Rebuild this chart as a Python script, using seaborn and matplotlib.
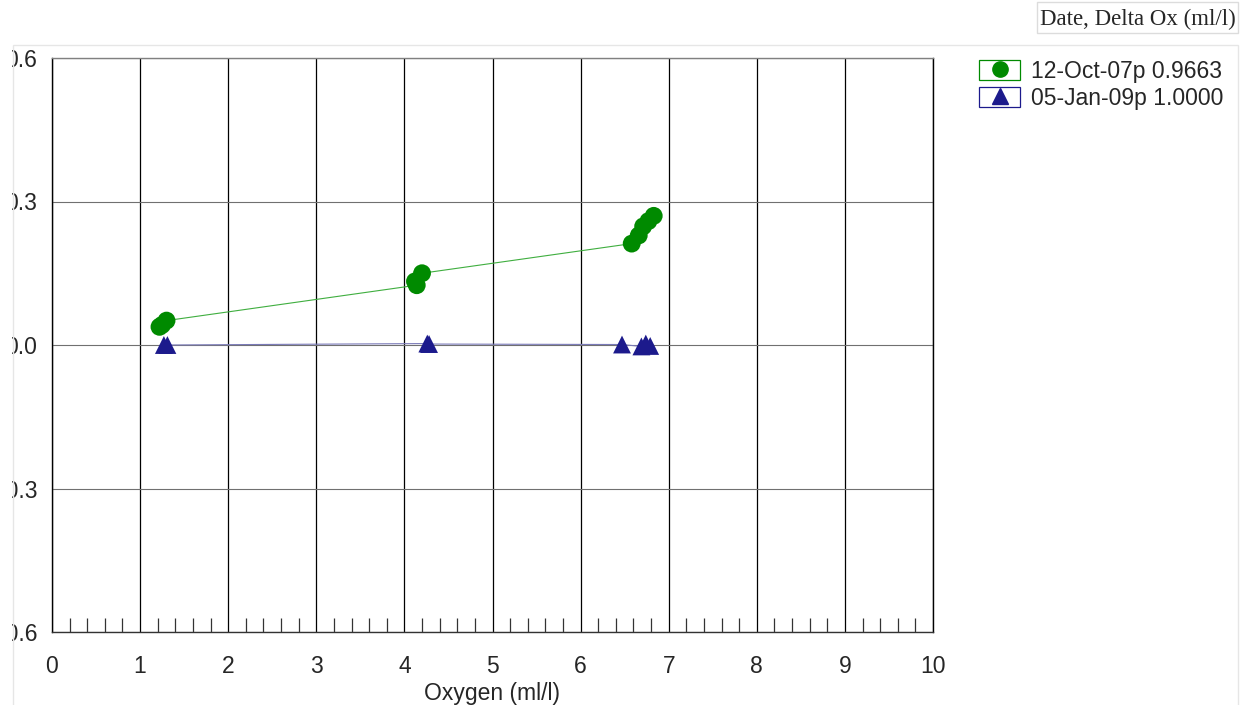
import numpy as np
import pandas as pd
import matplotlib
matplotlib.use("Agg")
import matplotlib.pyplot as plt
from matplotlib.patches import Rectangle
from matplotlib.lines import Line2D
from matplotlib.ticker import MultipleLocator
import seaborn as sns

# Oxygen profile casts: oxygen (ml/l) against delta oxygen (ml/l), in cast order
oct07_label = "12-Oct-07p 0.9663"
oct07_oxygen = [6.83, 6.77, 6.71, 6.66, 6.58, 4.20, 4.12, 4.14, 1.30, 1.25, 1.22]
oct07_delta = [0.270, 0.259, 0.248, 0.229, 0.212, 0.150, 0.133, 0.125, 0.051, 0.042, 0.038]

jan09_label = "05-Jan-09p 1.0000"
jan09_oxygen = [6.79, 6.74, 6.69, 6.47, 4.28, 4.26, 1.31, 1.27]
jan09_delta = [-0.002, 0.003, -0.003, 0.001, 0.002, 0.003, 0.000, 0.000]

x_ticks = list(range(0, 11))
y_ticks = [-0.6, -0.3, 0.0, 0.3, 0.6]
y_tick_labels = ["-0.6", "-0.3", "0.0", "0.3", "0.6"]

panel_title = "Date, Delta Ox (ml/l)"
x_label = "Oxygen (ml/l)"

series_colors = {oct07_label: "#008a00", jan09_label: "#1c1a8c"}
line_colors = {oct07_label: "#3fae3f", jan09_label: "#7a7ab8"}
series_markers = {oct07_label: "o", jan09_label: "^"}

df = pd.concat([
    pd.DataFrame({"oxygen": oct07_oxygen, "delta": oct07_delta, "series": oct07_label}),
    pd.DataFrame({"oxygen": jan09_oxygen, "delta": jan09_delta, "series": jan09_label}),
], ignore_index=True)

sns.set_style("white")
plt.rcParams["font.family"] = ["Liberation Sans", "DejaVu Sans"]

W, H = 1249, 705
fig = plt.figure(figsize=(W / 100, H / 100), dpi=100)
ax = fig.add_axes([52 / W, 1 - 632 / H, 881 / W, 574 / H])

# connecting lines, in cast order
sns.lineplot(data=df, x="oxygen", y="delta", hue="series", palette=line_colors,
             sort=False, estimator=None, linewidth=0.8, legend=False, ax=ax, zorder=3)
# sample points
sns.scatterplot(data=df, x="oxygen", y="delta", hue="series", style="series",
                palette=series_colors, markers=series_markers, s=165,
                linewidth=0, legend=False, ax=ax, zorder=4)

ax.set_xlim(0, 10)
ax.set_ylim(-0.6, 0.6)
ax.set_xticks(x_ticks)
ax.set_xticklabels([str(t) for t in x_ticks])
ax.xaxis.set_minor_locator(MultipleLocator(0.2))
ax.set_yticks(y_ticks)
ax.set_yticklabels(y_tick_labels)

# grid: black verticals, grey horizontals
for xv in x_ticks:
    ax.axvline(xv, color="black", linewidth=0.9, zorder=1)
for yv in y_ticks:
    ax.axhline(yv, color="#707070", linewidth=0.8, zorder=1)

ax.tick_params(axis="x", which="major", direction="out", length=11.5, width=1.0,
               color="black", labelsize=16.5, pad=5)
ax.tick_params(axis="x", which="minor", direction="in", length=10, width=0.9,
               color="#333333", bottom=True)
ax.tick_params(axis="y", which="major", direction="out", length=8.5, width=1.0,
               color="#707070", labelsize=16.5, pad=2)

for side, col in [("left", "black"), ("right", "black"), ("top", "#808080"), ("bottom", "#333333")]:
    ax.spines[side].set_visible(True)
    ax.spines[side].set_color(col)
    ax.spines[side].set_linewidth(1.0)

ax.set_xlabel(x_label, fontsize=16.5, labelpad=3)
ax.set_ylabel("")

# legend: marker inside an outlined swatch
handles = []
for lab in [oct07_label, jan09_label]:
    box = Rectangle((0, 0), 1, 1, facecolor="white", edgecolor=series_colors[lab], linewidth=0.9)
    mk = Line2D([], [], linestyle="none", marker=series_markers[lab],
                color=series_colors[lab], markersize=11)
    handles.append((box, mk))
fig.legend(handles, [oct07_label, jan09_label], loc="upper left",
           bbox_to_anchor=(979 / W, 1 - 60 / H), bbox_transform=fig.transFigure,
           frameon=False, fontsize=16.5, handlelength=1.8, handleheight=0.95,
           handletextpad=0.48, labelspacing=0.18, borderpad=0, borderaxespad=0)

# outer panel frame and clipping margin
fig.add_artist(Rectangle((0, 0), 12 / W, 1, transform=fig.transFigure,
                         facecolor="white", edgecolor="none", zorder=10))
fig.add_artist(Rectangle((13 / W, -0.01), 1225 / W, 1 - 45 / H + 0.01, transform=fig.transFigure,
                         facecolor="none", edgecolor="#e6e6e6", linewidth=1.0, zorder=11))

# panel title box
fig.add_artist(Rectangle((1037 / W, 1 - 33 / H), 201 / W, 31 / H, transform=fig.transFigure,
                         facecolor="white", edgecolor="#dcdcdc", linewidth=1.0, zorder=11))
fig.text(1236 / W, 1 - 19 / H, panel_title, ha="right", va="center", fontsize=16.5,
         family=["Liberation Serif", "DejaVu Serif"], zorder=12)

fig.savefig("out.png", dpi=100, facecolor="white")
